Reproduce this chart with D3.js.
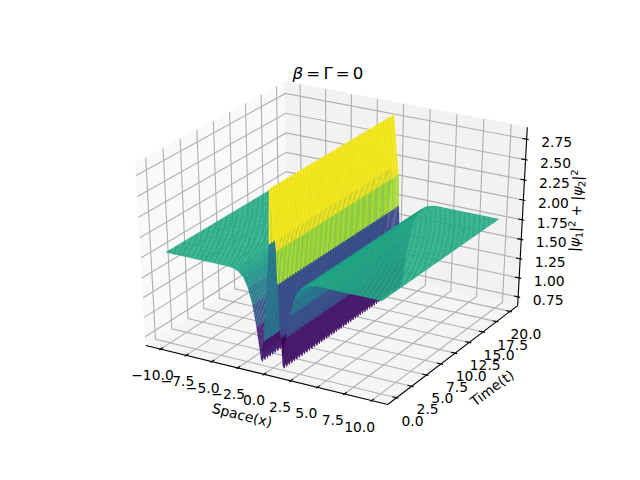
<!DOCTYPE html>
<html><head><meta charset="utf-8"><style>html,body{margin:0;padding:0;background:#fff}svg{display:block}text{font-family:"DejaVu Sans";fill:#000}</style>
<script src="https://cdn.jsdelivr.net/npm/d3@7"></script></head><body><div id="c"></div>
<script>
const spaceValues=[-10,-9.59,-9.18,-8.78,-8.37,-7.96,-7.55,-7.14,-6.73,-6.33,-5.92,-5.51,-5.10,-4.69,-4.29,-3.88,-3.47,-3.06,-2.65,-2.24,-1.84,-1.53,-1.15,-0.85,-0.20,-0.10,0.45,0.51,0.75,0.92,1.27,1.69,2.0,2.35,2.68,3.06,3.47,3.88,4.29,4.69,5.10,5.51,5.92,6.33,6.73,7.14,7.55,7.96,8.37,8.78,9.18,9.59,10];
const timeValues=[0,0.2,0.4,0.61,0.81,1.01,1.21,1.41,1.62,1.82,2.02,2.22,2.42,2.63,2.83,3.03,3.23,3.43,3.64,3.84,4.04,4.24,4.44,4.65,4.85,5.05,5.25,5.45,5.66,5.86,6.06,6.26,6.46,6.67,6.87,7.07,7.27,7.47,7.68,7.88,8.08,8.28,8.48,8.69,8.89,9.09,9.29,9.49,9.7,9.9,10.1,10.3,10.51,10.71,10.91,11.11,11.31,11.52,11.72,11.92,12.12,12.32,12.53,12.73,12.93,13.13,13.33,13.54,13.74,13.94,14.14,14.34,14.55,14.75,14.95,15.15,15.35,15.56,15.76,15.96,16.16,16.36,16.57,16.77,16.97,17.17,17.37,17.58,17.78,17.98,18.18,18.38,18.59,18.79,18.99,19.19,19.39,19.6,19.8,20];
const evenRowProfile=[1.79,1.79,1.79,1.79,1.79,1.79,1.79,1.79,1.79,1.79,1.79,1.79,1.79,1.79,1.79,1.785,1.78,1.75,1.70,1.58,1.38,1.12,0.72,0.96,2.18,2.83,2.11,1.71,1.06,0.70,1.07,1.35,1.55,1.65,1.71,1.75,1.775,1.785,1.79,1.79,1.79,1.79,1.79,1.79,1.79,1.79,1.79,1.79,1.79,1.79,1.79,1.79,1.79];
const oddRowProfile=[1.79,1.79,1.79,1.79,1.79,1.79,1.79,1.79,1.79,1.79,1.79,1.79,1.79,1.79,1.79,1.785,1.78,1.75,1.70,1.58,1.38,1.10,0.67,0.94,2.16,2.81,2.09,1.69,1.02,0.65,1.05,1.35,1.55,1.65,1.71,1.75,1.775,1.785,1.79,1.79,1.79,1.79,1.79,1.79,1.79,1.79,1.79,1.79,1.79,1.79,1.79,1.79,1.79];
const evenStripShade=[1.79,1.79,1.79,1.79,1.79,1.79,1.79,1.79,1.79,1.79,1.79,1.79,1.79,1.79,1.79,1.785,1.76,1.72,1.64,1.48,1.25,0.95,0.88,1.45,2.43,2.43,2.24,1.20,0.82,0.93,1.21,1.45,1.60,1.68,1.73,1.76,1.78,1.79,1.79,1.79,1.79,1.79,1.79,1.79,1.79,1.79,1.79,1.79,1.79,1.79,1.79,1.79];
const oddStripShade=[1.79,1.79,1.79,1.79,1.79,1.79,1.79,1.79,1.79,1.79,1.79,1.79,1.79,1.79,1.79,1.785,1.76,1.72,1.64,1.48,1.25,0.97,0.88,1.43,2.36,2.36,2.17,1.16,0.80,0.93,1.21,1.45,1.60,1.68,1.73,1.76,1.78,1.79,1.79,1.79,1.79,1.79,1.79,1.79,1.79,1.79,1.79,1.79,1.79,1.79,1.79,1.79];
const shadeRange=[0.80,2.43];
const xTicks=[-10,-7.5,-5,-2.5,0,2.5,5,7.5,10];
const yTicks=[0,2.5,5,7.5,10,12.5,15,17.5,20];
const zTicks=[0.75,1,1.25,1.5,1.75,2,2.25,2.5,2.75];
const xLim=[-11,11],yLim=[-1,21],zLim=[0.68,2.85];

const W=640,H=480;
const svg=d3.select("#c").append("svg").attr("width",W).attr("height",H).attr("viewBox",`0 0 ${W} ${H}`);
const box=[1,1,1];
const fx=d3.scaleLinear().domain(xLim).range([0,box[0]]);
const fy=d3.scaleLinear().domain(yLim).range([0,box[1]]);
const fz=d3.scaleLinear().domain(zLim).range([0,box[2]]);
const sx=d3.scaleLinear().domain([-0.095,0.09]).range([80,576]);
const sy=d3.scaleLinear().domain([-0.095,0.09]).range([427.2,57.6]);
const el=30*Math.PI/180,az=-60*Math.PI/180,dist=10;
const w=[Math.cos(el)*Math.cos(az),Math.cos(el)*Math.sin(az),Math.sin(el)];
const R=box.map(d=>d/2),eye=R.map((d,i)=>d+dist*w[i]);
const cross=(a,b)=>[a[1]*b[2]-a[2]*b[1],a[2]*b[0]-a[0]*b[2],a[0]*b[1]-a[1]*b[0]];
const dot=(a,b)=>a[0]*b[0]+a[1]*b[1]+a[2]*b[2];
let u=cross([0,0,1],w);const un=Math.hypot(...u);u=u.map(d=>d/un);const v=cross(w,u);
function proj(x,y,z){const p=[fx(x)-eye[0],fy(y)-eye[1],fz(z)-eye[2]];const zv=dot(w,p);return {x:sx(dot(u,p)/-zv),y:sy(dot(v,p)/-zv),d:-zv};}
const pad=(l)=>{const d=(l[1]-l[0])/48;return [l[0]-d,l[1]+d];};
const xE=pad(xLim),yE=pad(yLim),zE=pad(zLim);
const line=d3.line().x(d=>d.x).y(d=>d.y);
const poly=(pts)=>pts.map(d=>d.x+","+d.y).join(" ");

// panes
const panes=[
 {c:"#f9f9f9",p:[[xE[0],yE[0],zE[0]],[xE[0],yE[1],zE[0]],[xE[0],yE[1],zE[1]],[xE[0],yE[0],zE[1]]]},
 {c:"#f2f2f2",p:[[xE[0],yE[1],zE[0]],[xE[1],yE[1],zE[0]],[xE[1],yE[1],zE[1]],[xE[0],yE[1],zE[1]]]},
 {c:"#f5f5f5",p:[[xE[0],yE[0],zE[0]],[xE[1],yE[0],zE[0]],[xE[1],yE[1],zE[0]],[xE[0],yE[1],zE[0]]]}];
svg.append("g").selectAll("polygon").data(panes).join("polygon")
 .attr("points",d=>poly(d.p.map(q=>proj(...q)))).attr("fill",d=>d.c).attr("stroke",d=>d.c).attr("stroke-width",1);

// grid
const grid=svg.append("g").attr("fill","none").attr("stroke","#b0b0b0").attr("stroke-width",1.11);
const gl=[...xTicks.map(t=>[[t,yE[0],zE[0]],[t,yE[1],zE[0]],[t,yE[1],zE[1]]]),
 ...yTicks.map(t=>[[xE[1],t,zE[0]],[xE[0],t,zE[0]],[xE[0],t,zE[1]]]),
 ...zTicks.map(t=>[[xE[0],yE[0],t],[xE[0],yE[1],t],[xE[1],yE[1],t]])];
grid.selectAll("path").data(gl).join("path").attr("d",d=>line(d.map(q=>proj(...q))));

// axis lines + ticks
const ax=svg.append("g").attr("stroke","#000").attr("stroke-width",1.11).attr("fill","none");
const al=[[[xE[0],yE[0],zE[0]],[xE[1],yE[0],zE[0]]],[[xE[1],yE[0],zE[0]],[xE[1],yE[1],zE[0]]],[[xE[1],yE[1],zE[0]],[xE[1],yE[1],zE[1]]]];
ax.selectAll("path.a").data(al).join("path").attr("class","a").attr("d",d=>line(d.map(q=>proj(...q))));
const dx=(xLim[1]-xLim[0])/12*1.0417,dy=(yLim[1]-yLim[0])/12*1.0417;
const tl=[...xTicks.map(t=>[[t,yE[0]-0.1*dy,zE[0]],[t,yE[0]+0.2*dy,zE[0]]]),
 ...yTicks.map(t=>[[xE[1]+0.1*dx,t,zE[0]],[xE[1]-0.2*dx,t,zE[0]]]),
 ...zTicks.map(t=>[[xE[1]+0.1*dx,yE[1],t],[xE[1]-0.2*dx,yE[1],t]])];
ax.selectAll("path.t").data(tl).join("path").attr("class","t").attr("d",d=>line(d.map(q=>proj(...q))));

// surface
const Z=timeValues.map((_,r)=>r%2?oddRowProfile:evenRowProfile);
const color=d3.scaleSequential(d3.interpolateViridis).domain(shadeRange).clamp(true);
const quads=[];
for(let r=0;r<timeValues.length-1;r++)for(let c=0;c<spaceValues.length-1;c++){
 const vs=[[c,r],[c+1,r],[c+1,r+1],[c,r+1]];
 const pts=vs.map(([i,j])=>proj(spaceValues[i],timeValues[j],Z[j][i]));
 quads.push({pts,d:d3.mean(pts,p=>p.d),z:(r%2?oddStripShade:evenStripShade)[c]});
}
quads.sort((a,b)=>b.d-a.d);
svg.append("g").selectAll("polygon").data(quads).join("polygon").attr("points",d=>poly(d.pts)).attr("fill",d=>color(d.z)).attr("stroke",d=>color(d.z)).attr("stroke-width",0.2);

// tick labels
const fmt=d=>d3.format(".1f")(d).replace("-","\u2212"),fz2=d3.format(".2f");
const tg=svg.append("g").attr("font-size",13.89).attr("text-anchor","middle");
tg.selectAll("text.x").data(xTicks).join("text").attr("class","x").text(fmt)
 .attr("x",d=>proj(d,yE[0],zE[0]).x-10-d*0.2).attr("y",d=>proj(d,yE[0],zE[0]).y+31);
tg.selectAll("text.y").data(yTicks).join("text").attr("class","y").text(fmt)
 .attr("x",d=>proj(xE[1],d,zE[0]).x+16).attr("y",d=>proj(xE[1],d,zE[0]).y+28);
tg.selectAll("text.z").data(zTicks).join("text").attr("class","z").text(fz2)
 .attr("x",d=>proj(xE[1],yE[1],d).x+30).attr("y",d=>proj(xE[1],yE[1],d).y+8);

// titles
svg.append("text").attr("x",328).attr("y",79).attr("text-anchor","middle").attr("font-size",16.67).attr("word-spacing",-2.2).html('<tspan font-style="italic">β</tspan> = Γ = 0');
svg.append("text").attr("transform","translate(241,420) rotate(14)").attr("text-anchor","middle").attr("font-size",13.89).text("Space(x)");
svg.append("text").attr("transform","translate(495,392) rotate(-37)").attr("text-anchor","middle").attr("font-size",13.89).text("Time(t)");
svg.append("text").attr("transform","translate(581,211) rotate(-87)").attr("text-anchor","middle").attr("font-size",13.89)
 .html('|<tspan font-style="italic">ψ</tspan><tspan font-size="9.7" dy="3">1</tspan><tspan dy="-3">|</tspan><tspan font-size="9.7" dy="-5">2</tspan><tspan dy="5"> + |</tspan><tspan font-style="italic">ψ</tspan><tspan font-size="9.7" dy="3">2</tspan><tspan dy="-3">|</tspan><tspan font-size="9.7" dy="-5">2</tspan>');
</script></body></html>
